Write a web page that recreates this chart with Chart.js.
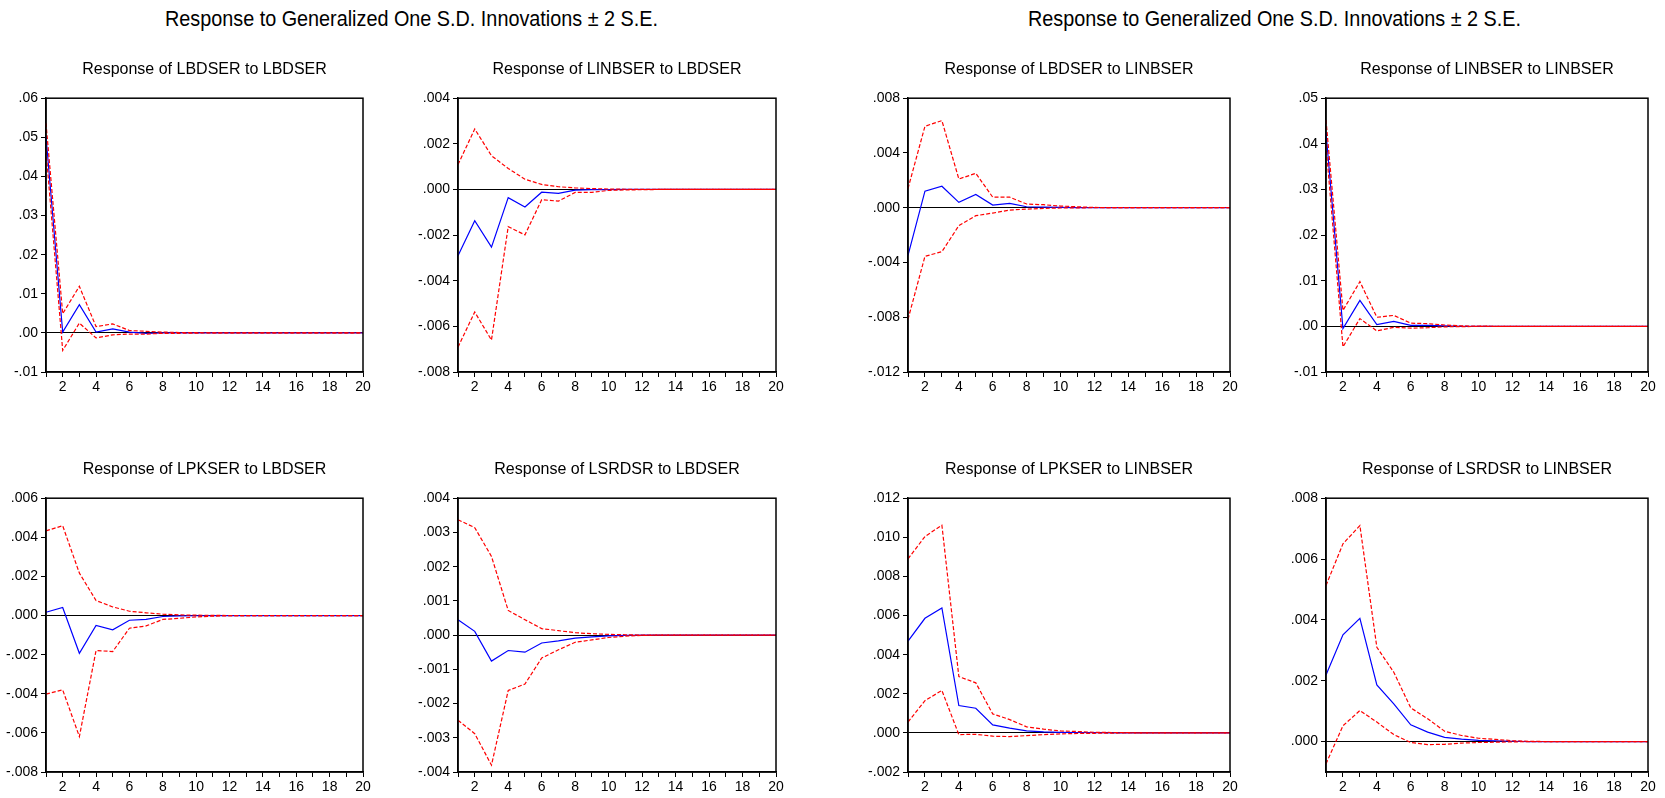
<!DOCTYPE html>
<html>
<head>
<meta charset="utf-8">
<script src="https://cdn.jsdelivr.net/npm/chart.js@4.4.1/dist/chart.umd.min.js"></script>
<style>
    body {
        margin: 0;
        width: 1665px;
        height: 798px;
        background: #fff;
        overflow: hidden;
        position: relative;
        font-family: 'Liberation Sans', Arial, sans-serif;
    }
    .main-title {
        position: absolute;
        top: 6px;
        font-size: 22px;
        color: #000;
        white-space: nowrap;
        transform: scaleX(0.9);
        transform-origin: left top;
    }
    canvas {
        position: absolute;
    }
</style>
</head>
<body>

<div class="main-title" style="left: 165px;">Response to Generalized One S.D. Innovations ± 2 S.E.</div>
<div class="main-title" style="left: 1028px;">Response to Generalized One S.D. Innovations ± 2 S.E.</div>

<script>
Chart.defaults.font.family = 'Liberation Sans';
Chart.defaults.color = '#000';

const periods = [1, 2, 3, 4, 5, 6, 7, 8, 9, 10, 11, 12, 13, 14, 15, 16, 17, 18, 19, 20];

const panelTitles = [
    'Response of LBDSER to LBDSER',
    'Response of LINBSER to LBDSER',
    'Response of LBDSER to LINBSER',
    'Response of LINBSER to LINBSER',
    'Response of LPKSER to LBDSER',
    'Response of LSRDSR to LBDSER',
    'Response of LPKSER to LINBSER',
    'Response of LSRDSR to LINBSER'
];

// LBDSER to LBDSER
const p1Resp  = [0.0502, 0.0002, 0.0072, 0.0002, 0.0010, 0.0002, -0.0001, 0.00002, 0.00001, 0, 0, 0, 0, 0, 0, 0, 0, 0, 0, 0];
const p1Upper = [0.0536, 0.0049, 0.0119, 0.0016, 0.0023, 0.0006, 0.0004, 0.0002, 0.0001, 0.00005, 0.00002, 0, 0, 0, 0, 0, 0, 0, 0, 0];
const p1Lower = [0.0466, -0.0045, 0.0025, -0.0013, -0.0005, -0.0003, -0.0003, -0.0001, -0.0001, -0.00004, -0.00002, 0, 0, 0, 0, 0, 0, 0, 0, 0];
const p1Ticks = [-0.01, 0, 0.01, 0.02, 0.03, 0.04, 0.05, 0.06];
const p1Range = [-0.01, 0.06];

// LINBSER to LBDSER
const p2Resp  = [-0.00290, -0.00137, -0.00253, -0.00036, -0.00077, -0.00012, -0.00017, -0.00003, -0.00001, -0.00001, 0, 0, 0, 0, 0, 0, 0, 0, 0, 0];
const p2Upper = [0.00109, 0.00265, 0.00148, 0.00092, 0.00045, 0.00022, 0.00012, 0.00007, 0.00004, 0.00002, 0.00001, 0, 0, 0, 0, 0, 0, 0, 0, 0];
const p2Lower = [-0.00691, -0.00537, -0.00660, -0.00163, -0.00199, -0.00045, -0.00051, -0.00013, -0.00013, -0.00004, -0.00002, -0.00001, 0, 0, 0, 0, 0, 0, 0, 0];
const p2Ticks = [-0.008, -0.006, -0.004, -0.002, 0, 0.002, 0.004];
const p2Range = [-0.008, 0.004];

// LBDSER to LINBSER
const p3Resp  = [-0.00348, 0.00121, 0.00157, 0.00039, 0.00097, 0.00019, 0.00031, 0.00007, 0.00005, 0.00002, 0.00001, 0, 0, 0, 0, 0, 0, 0, 0, 0];
const p3Upper = [0.00140, 0.00595, 0.00636, 0.00210, 0.00251, 0.00077, 0.00077, 0.00027, 0.00022, 0.00012, 0.00007, 0.00002, 0.00001, 0, 0, 0, 0, 0, 0, 0];
const p3Lower = [-0.00815, -0.00355, -0.00321, -0.00131, -0.00058, -0.00039, -0.00017, -0.00010, -0.00005, -0.00002, -0.00001, 0, 0, 0, 0, 0, 0, 0, 0, 0];
const p3Ticks = [-0.012, -0.008, -0.004, 0, 0.004, 0.008];
const p3Range = [-0.012, 0.008];

// LINBSER to LINBSER
const p4Resp  = [0.0425, -0.0005, 0.0057, 0.0004, 0.0011, 0.0002, 0.0002, 0.0001, 0.00003, 0.00001, 0, 0, 0, 0, 0, 0, 0, 0, 0, 0];
const p4Upper = [0.0452, 0.0035, 0.0098, 0.0020, 0.0024, 0.0007, 0.0006, 0.0003, 0.0001, 0.00005, 0.00002, 0, 0, 0, 0, 0, 0, 0, 0, 0];
const p4Lower = [0.0398, -0.0045, 0.0017, -0.0010, -0.0002, -0.0004, -0.0003, -0.0001, -0.00005, -0.00002, 0, 0, 0, 0, 0, 0, 0, 0, 0, 0];
const p4Ticks = [-0.01, 0, 0.01, 0.02, 0.03, 0.04, 0.05];
const p4Range = [-0.01, 0.05];

// LPKSER to LBDSER
const p5Resp  = [0.00017, 0.00041, -0.00193, -0.00051, -0.00073, -0.00024, -0.00020, -0.00005, -0.00002, -0.00001, 0, 0, 0, 0, 0, 0, 0, 0, 0, 0];
const p5Upper = [0.00433, 0.00459, 0.00217, 0.00077, 0.00044, 0.00022, 0.00014, 0.00007, 0.00003, 0.00002, 0.00001, 0, 0, 0, 0, 0, 0, 0, 0, 0];
const p5Lower = [-0.00402, -0.00380, -0.00619, -0.00179, -0.00184, -0.00065, -0.00053, -0.00020, -0.00014, -0.00007, -0.00003, -0.00001, 0, 0, 0, 0, 0, 0, 0, 0];
const p5Ticks = [-0.008, -0.006, -0.004, -0.002, 0, 0.002, 0.004, 0.006];
const p5Range = [-0.008, 0.006];

// LSRDSR to LBDSER
const p6Resp  = [0.00045, 0.00011, -0.00076, -0.00045, -0.00050, -0.00023, -0.00017, -0.00009, -0.00005, -0.00002, -0.00001, 0, 0, 0, 0, 0, 0, 0, 0, 0];
const p6Upper = [0.00337, 0.00314, 0.00230, 0.00072, 0.00045, 0.00019, 0.00013, 0.00007, 0.00004, 0.00002, 0.00001, 0, 0, 0, 0, 0, 0, 0, 0, 0];
const p6Lower = [-0.00249, -0.00288, -0.00380, -0.00162, -0.00143, -0.00067, -0.00043, -0.00021, -0.00014, -0.00007, -0.00003, -0.00001, 0, 0, 0, 0, 0, 0, 0, 0];
const p6Ticks = [-0.004, -0.003, -0.002, -0.001, 0, 0.001, 0.002, 0.003, 0.004];
const p6Range = [-0.004, 0.004];

// LPKSER to LINBSER
const p7Resp  = [0.00469, 0.00586, 0.00639, 0.00140, 0.00126, 0.00041, 0.00024, 0.00010, 0.00005, 0.00003, 0.00002, 0.00001, 0, 0, 0, 0, 0, 0, 0, 0];
const p7Upper = [0.00890, 0.01004, 0.01062, 0.00288, 0.00256, 0.00097, 0.00068, 0.00031, 0.00019, 0.00010, 0.00007, 0.00003, 0.00002, 0.00001, 0, 0, 0, 0, 0, 0];
const p7Lower = [0.00055, 0.00165, 0.00217, -0.00009, -0.00007, -0.00017, -0.00019, -0.00014, -0.00009, -0.00005, -0.00003, -0.00002, -0.00001, 0, 0, 0, 0, 0, 0, 0];
const p7Ticks = [-0.002, 0, 0.002, 0.004, 0.006, 0.008, 0.010, 0.012];
const p7Range = [-0.002, 0.012];

// LSRDSR to LINBSER
const p8Resp  = [0.00219, 0.00351, 0.00405, 0.00186, 0.00124, 0.00055, 0.00031, 0.00014, 0.00008, 0.00004, 0.00002, 0.00001, 0, 0, 0, 0, 0, 0, 0, 0];
const p8Upper = [0.00513, 0.00650, 0.00710, 0.00310, 0.00228, 0.00111, 0.00075, 0.00034, 0.00020, 0.00011, 0.00007, 0.00003, 0.00001, 0, 0, 0, 0, 0, 0, 0];
const p8Lower = [-0.00073, 0.00052, 0.00102, 0.00064, 0.00023, -0.00003, -0.00010, -0.00009, -0.00005, -0.00003, -0.00002, -0.00001, 0, 0, 0, 0, 0, 0, 0, 0];
const p8Ticks = [0, 0.002, 0.004, 0.006, 0.008];
const p8Range = [-0.001, 0.008];

const panels = [
    { resp: p1Resp, upper: p1Upper, lower: p1Lower, ticks: p1Ticks, range: p1Range, decimals: 2 },
    { resp: p2Resp, upper: p2Upper, lower: p2Lower, ticks: p2Ticks, range: p2Range, decimals: 3 },
    { resp: p3Resp, upper: p3Upper, lower: p3Lower, ticks: p3Ticks, range: p3Range, decimals: 3 },
    { resp: p4Resp, upper: p4Upper, lower: p4Lower, ticks: p4Ticks, range: p4Range, decimals: 2 },
    { resp: p5Resp, upper: p5Upper, lower: p5Lower, ticks: p5Ticks, range: p5Range, decimals: 3 },
    { resp: p6Resp, upper: p6Upper, lower: p6Lower, ticks: p6Ticks, range: p6Range, decimals: 3 },
    { resp: p7Resp, upper: p7Upper, lower: p7Lower, ticks: p7Ticks, range: p7Range, decimals: 3 },
    { resp: p8Resp, upper: p8Upper, lower: p8Lower, ticks: p8Ticks, range: p8Range, decimals: 3 }
];

/* ===== Layout of the plot boxes (page pixels) ===== */

const columns = [[46, 363], [458, 776], [908, 1230], [1326, 1648]];
const rows = [[97.5, 371.5], [498, 772]];

const AXIS_W = 45;
const TITLE_H = 47;
const XAXIS_H = 26;
const PAD_R = 14;

// box around the plot area, EViews style
const framePlugin = {
    id: 'frame',
    afterDatasetsDraw(chart) {
        const a = chart.chartArea;
        const ctx = chart.ctx;
        ctx.save();
        ctx.strokeStyle = '#000';
        ctx.lineWidth = 1.5;
        ctx.strokeRect(a.left, a.top, a.right - a.left, a.bottom - a.top);
        ctx.restore();
    }
};

function fmtTick(v, dec) {
    let s = Number(v).toFixed(dec);
    return s.replace(/^(-?)0\./, '$1.');
}

panels.forEach((p, i) => {
    const col = columns[i % 4];
    const row = rows[Math.floor(i / 4)];

    const canvas = document.createElement('canvas');
    canvas.width = (col[1] - col[0]) + AXIS_W + PAD_R;
    canvas.height = Math.round((row[1] - row[0]) + TITLE_H + XAXIS_H);
    canvas.style.left = (col[0] - AXIS_W) + 'px';
    canvas.style.top = (row[0] - TITLE_H) + 'px';
    document.body.appendChild(canvas);

    new Chart(canvas, {
        type: 'line',

        plugins: [framePlugin],

        data: {
            labels: periods,

            datasets: [
                {
                    label: '+2 S.E.',
                    data: p.upper,
                    borderColor: '#ff0000',
                    borderWidth: 1.2,
                    borderDash: [4, 2],
                    pointRadius: 0,
                    tension: 0
                },
                {
                    label: '-2 S.E.',
                    data: p.lower,
                    borderColor: '#ff0000',
                    borderWidth: 1.2,
                    borderDash: [4, 2],
                    pointRadius: 0,
                    tension: 0
                },
                {
                    label: 'Response',
                    data: p.resp,
                    borderColor: '#0000ff',
                    borderWidth: 1.2,
                    pointRadius: 0,
                    tension: 0
                }
            ]
        },

        options: {
            responsive: false,
            animation: false,

            layout: {
                padding: { left: 0, right: PAD_R, top: 0, bottom: 0 }
            },

            plugins: {
                legend: {
                    display: false
                },
                tooltip: {
                    enabled: false
                },
                title: {
                    display: true,
                    text: panelTitles[i],
                    fullSize: false,
                    color: '#000',
                    font: {
                        size: 16,
                        weight: 'normal'
                    },
                    padding: { top: 9, bottom: 19 }
                }
            },

            scales: {
                x: {
                    type: 'category',
                    offset: false,
                    afterFit: (s) => { s.height = XAXIS_H; },
                    border: {
                        display: true,
                        color: '#000',
                        width: 1.5
                    },
                    grid: {
                        drawOnChartArea: false,
                        drawTicks: true,
                        tickLength: 5,
                        color: '#000',
                        tickColor: '#000'
                    },
                    ticks: {
                        autoSkip: false,
                        maxRotation: 0,
                        padding: 2,
                        color: '#000',
                        font: { size: 14 },
                        callback: function(value, index) {
                            return periods[index] % 2 === 0 ? String(periods[index]) : '';
                        }
                    }
                },
                y: {
                    type: 'linear',
                    min: p.range[0],
                    max: p.range[1],
                    afterFit: (s) => { s.width = AXIS_W; },
                    afterBuildTicks: (s) => {
                        s.ticks = p.ticks.map(v => ({ value: v }));
                    },
                    border: {
                        display: true,
                        color: '#000',
                        width: 1.5
                    },
                    grid: {
                        drawOnChartArea: true,
                        drawTicks: true,
                        tickLength: 5,
                        lineWidth: 1,
                        color: (ctx) => (ctx.tick && ctx.tick.value === 0) ? '#000' : 'rgba(0,0,0,0)',
                        tickColor: '#000'
                    },
                    ticks: {
                        padding: 3,
                        color: '#000',
                        font: { size: 14 },
                        callback: function(value) {
                            return fmtTick(value, p.decimals);
                        }
                    }
                }
            }
        }
    });
});
</script>
</body>
</html>
